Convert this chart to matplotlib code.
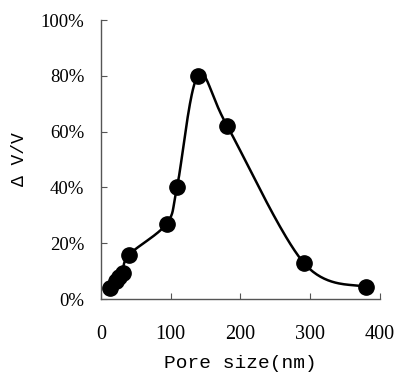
import numpy as np
import matplotlib
matplotlib.use("Agg")
import matplotlib.pyplot as plt
from matplotlib.ticker import FuncFormatter

pore_size = [13, 21, 26, 31, 40, 94, 109, 139, 181, 291, 380]
dv_v = [3.8, 6.3, 7.8, 9.3, 15.8, 27.0, 40.0, 80.0, 62.0, 12.9, 4.3]
x_ticks = [0, 100, 200, 300, 400]
y_ticks = [0, 20, 40, 60, 80, 100]
x_label = "Pore size(nm)"
y_label = "Δ V/V"


def smooth(xs, ys, xr, yr, n=40):
    # Catmull-Rom / Bezier smoothing in normalized (isotropic) space
    px = np.asarray(xs, float) / xr
    py = np.asarray(ys, float) / yr
    P = np.column_stack([px, py])
    P = np.vstack([P[0], P, P[-1]])
    out = []
    t = np.linspace(0, 1, n)[:, None]
    for i in range(1, len(P) - 2):
        p0, p1, p2, p3 = P[i - 1], P[i], P[i + 1], P[i + 2]
        c1 = p1 + (p2 - p0) / 6
        c2 = p2 - (p3 - p1) / 6
        seg = ((1 - t) ** 3) * p1 + 3 * ((1 - t) ** 2) * t * c1 + 3 * (1 - t) * t ** 2 * c2 + t ** 3 * p2
        out.append(seg if i == 1 else seg[1:])
    out = np.vstack(out)
    return out[:, 0] * xr, out[:, 1] * yr


fig = plt.figure(figsize=(3.97, 3.74), dpi=100)
ax = fig.add_axes([0.2544, 0.2005, 0.7026, 0.746])

sx, sy = smooth(pore_size, dv_v, 400, 100)
ax.plot(sx, sy, color="black", lw=1.8, zorder=2)
ax.plot(pore_size, dv_v, "o", color="black", ms=11, zorder=3)

ax.set_xlim(0, 400)
ax.set_ylim(0, 100)
ax.set_xticks(x_ticks)
ax.set_yticks(y_ticks)
ax.yaxis.set_major_formatter(FuncFormatter(lambda v, p: f"{int(v)}%"))

for s in ["top", "right"]:
    ax.spines[s].set_visible(False)
for s in ["left", "bottom"]:
    ax.spines[s].set_color("#555555")
    ax.spines[s].set_linewidth(1.0)

ax.tick_params(axis="both", direction="in", length=4, width=0.8, color="#555555")
ax.tick_params(axis="x", pad=19)
ax.tick_params(axis="y", pad=12)
for lab in ax.get_yticklabels():
    lab.set_fontfamily("Liberation Serif")
    lab.set_fontsize(13.5)
for lab in ax.get_xticklabels():
    lab.set_fontfamily("Liberation Serif")
    lab.set_fontsize(14.5)

ax.set_xlabel(x_label, family="Liberation Mono", fontsize=14)
ax.set_ylabel(y_label, family=["Liberation Mono", "DejaVu Sans Mono"], fontsize=13)
ax.xaxis.set_label_coords(0.5, -0.2)
ax.yaxis.set_label_coords(-0.26, 0.5)

fig.savefig("out.png", dpi=100)
